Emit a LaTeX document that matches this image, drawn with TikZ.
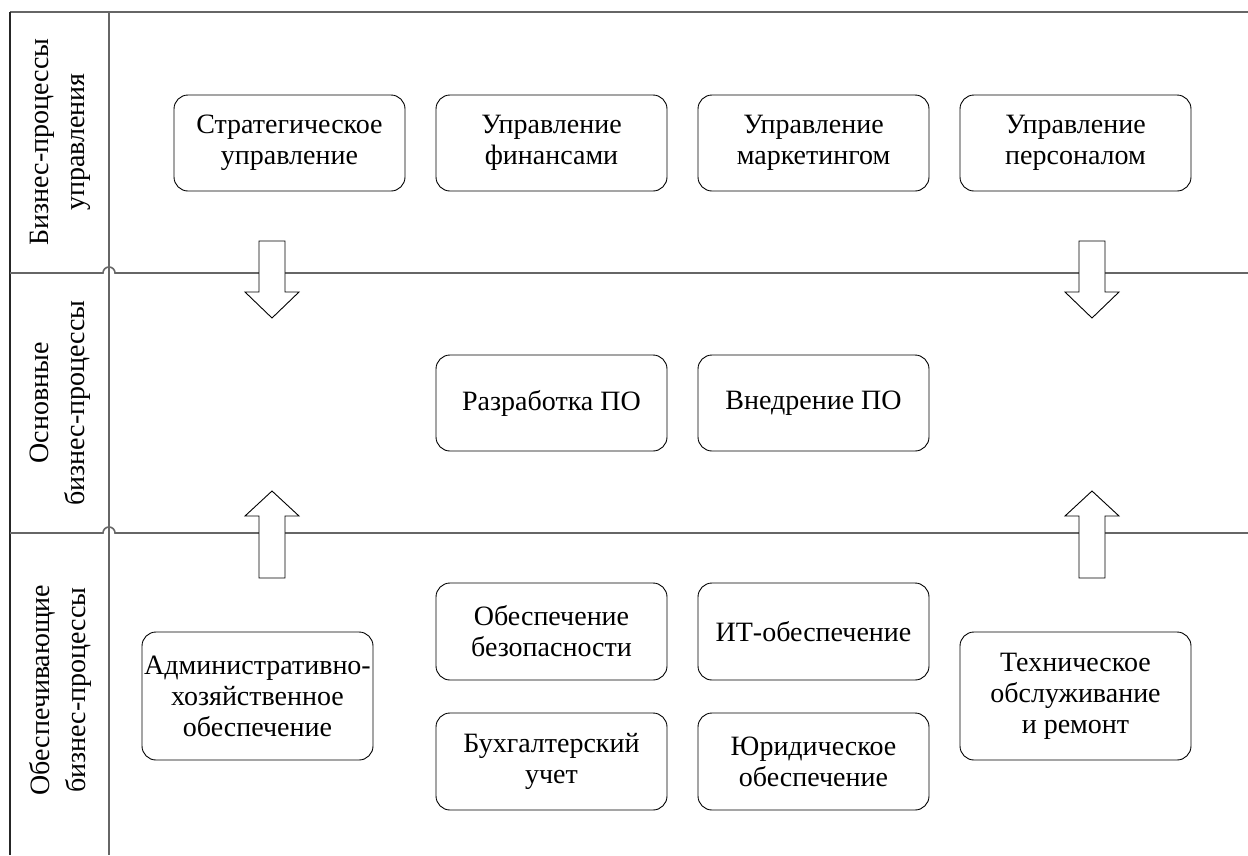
\documentclass[tikz,border=0pt]{standalone}
\usepackage{fontspec}
\setmainfont{Liberation Serif}
\begin{document}
\begin{tikzpicture}[x=1pt,y=-1pt,
  lane/.style={draw=black!60,line width=1.6pt},
  edge/.style={draw=black!85,line width=1.6pt},
  proc/.style={draw=black,line width=0.9pt,rounded corners=14pt,fill=white,
    minimum width=231pt,minimum height=96pt,align=center,inner sep=2pt,
    font=\fontsize{28}{31}\selectfont},
  lanetitle/.style={rotate=90,align=center,font=\fontsize{28}{36}\selectfont},
  blockarrow/.style={draw=black,line width=0.9pt,fill=white}]
\useasboundingbox (0,0) rectangle (1248,855);
% frame of the swimlanes
\draw[lane] (10,12) -- (1248,12);
\draw[lane] (109,12) -- (109,855);
\draw[edge] (10,12) -- (10,855);
% lane separators, hopping over the title column line
\draw[lane] (10,273) -- (103,273) arc[start angle=180,end angle=360,radius=6] -- (1248,273);
\draw[lane] (10,533) -- (103,533) arc[start angle=180,end angle=360,radius=6] -- (1248,533);
% lane titles
\node[lanetitle] (t1) at (60,142) {Бизнес-процессы\\управления};
\node[lanetitle] (t2) at (60,403) {Основные\\бизнес-процессы};
\node[lanetitle] (t3) at (60,690) {Обеспечивающие\\бизнес-процессы};
% management processes
\node[proc] (m1) at (289.5,143) {Стратегическое\\управление};
\node[proc] (m2) at (551.5,143) {Управление\\финансами};
\node[proc] (m3) at (813.5,143) {Управление\\маркетингом};
\node[proc] (m4) at (1075.5,143) {Управление\\персоналом};
% core processes
\node[proc] (c1) at (551.5,403) {Разработка ПО};
\node[proc] (c2) at (813.5,403) {Внедрение ПО};
% supporting processes
\node[proc,minimum height=128pt] (s1) at (257.5,696) {Административно-\\хозяйственное\\обеспечение};
\node[proc,minimum height=97pt] (s2) at (551.5,631.5) {Обеспечение\\безопасности};
\node[proc,minimum height=97pt] (s3) at (813.5,631.5) {ИТ-обеспечение};
\node[proc,minimum height=97pt] (s4) at (551.5,761.5) {Бухгалтерский\\учет};
\node[proc,minimum height=97pt] (s5) at (813.5,761.5) {Юридическое\\обеспечение};
\node[proc,minimum height=128pt] (s6) at (1075.5,696) {Техническое\\обслуживание\\и ремонт};
% hollow block arrows between the lanes
\foreach \cx in {272,1092}{
  \filldraw[blockarrow] (\cx-13,241) -- (\cx+13,241) -- (\cx+13,292) -- (\cx+27,292)
    -- (\cx,318) -- (\cx-27,292) -- (\cx-13,292) -- cycle;
  \filldraw[blockarrow] (\cx-13,578) -- (\cx+13,578) -- (\cx+13,516) -- (\cx+27,516)
    -- (\cx,491) -- (\cx-27,516) -- (\cx-13,516) -- cycle;
}
\end{tikzpicture}
\end{document}
